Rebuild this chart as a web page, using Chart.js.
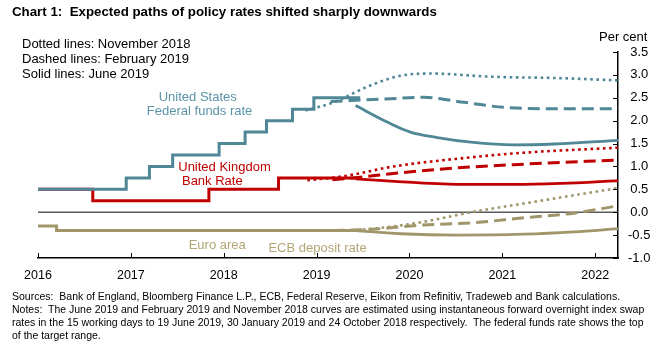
<!DOCTYPE html>
<html>
<head>
<meta charset="utf-8">
<script src="https://cdn.jsdelivr.net/npm/chart.js@4.4.1/dist/chart.umd.min.js"></script>
<style>
  body { margin: 0; background: #fff; font-family: "Liberation Sans", Arial, sans-serif; }
  #wrap { position: relative; width: 669px; height: 352px; overflow: hidden; }
  #chart { position: absolute; left: 0; top: 0; }
  .txt { position: absolute; white-space: nowrap; color: #000; }
  .title { font-size: 13.3px; font-weight: bold; line-height: 15px; }
  .key { font-size: 13px; line-height: 15px; }
  .notes { font-size: 11px; line-height: 13px; transform: scaleX(0.955); transform-origin: left top; }
</style>
</head>
<body>
<div id="wrap">
  <canvas id="chart" width="669" height="352"></canvas>
  <div class="txt title" style="left:12px; top:4px;">Chart 1:&nbsp; Expected paths of policy rates shifted sharply downwards</div>
  <div class="txt key" style="left:22px; top:36px;">Dotted lines: November 2018<br>Dashed lines: February 2019<br>Solid lines: June 2019</div>
  <div class="txt key" style="left:599px; top:29px;">Per cent</div>
  <div class="txt notes" style="left:12px; top:290px;">Sources:&nbsp; Bank of England, Bloomberg Finance L.P., ECB, Federal Reserve, Eikon from Refinitiv, Tradeweb and Bank calculations.<br>Notes:&nbsp; The June 2019 and February 2019 and November 2018 curves are estimated using instantaneous forward overnight index swap<br>rates in the 15 working days to 19 June 2019, 30 January 2019 and 24 October 2018 respectively.&nbsp; The federal funds rate shows the top<br>of the target range.</div>
</div>
<script>
// history (step lines)
const usHistYears = [2016, 2016.95, 2017.20, 2017.45, 2017.95, 2018.23, 2018.46, 2018.74, 2018.97, 2019.47];
const usHistRates = [0.5, 0.75, 1.0, 1.25, 1.5, 1.75, 2.0, 2.25, 2.5, 2.5];
const ukHistYears = [2016, 2016.59, 2017.84, 2018.59, 2019.47];
const ukHistRates = [0.5, 0.25, 0.5, 0.75, 0.75];
const euHistYears = [2016, 2016.2, 2019.47];
const euHistRates = [-0.3, -0.4, -0.4];

// forward curves - US
const usNovYears = [2018.88, 2019.18, 2019.58, 2019.9, 2020.23, 2020.88, 2021.6, 2022.245];
const usNovRates = [2.22, 2.40, 2.77, 2.98, 3.03, 2.96, 2.93, 2.88];
const usFebYears = [2019.15, 2019.37, 2019.8, 2020.15, 2020.59, 2021.02, 2021.6, 2022.245];
const usFebRates = [2.42, 2.44, 2.48, 2.51, 2.40, 2.29, 2.26, 2.26];
const usJunYears = [2019.42, 2019.76, 2020.01, 2020.3, 2020.66, 2021.12, 2021.56, 2022.245];
const usJunRates = [2.33, 1.97, 1.75, 1.63, 1.53, 1.47, 1.49, 1.57];

// forward curves - UK
const ukNovYears = [2018.9, 2019.2, 2019.44, 2019.8, 2020.52, 2021.23, 2022.245];
const ukNovRates = [0.70, 0.76, 0.84, 0.99, 1.17, 1.30, 1.41];
const ukFebYears = [2019.17, 2019.45, 2019.8, 2020.52, 2021.23, 2022.245];
const ukFebRates = [0.71, 0.76, 0.84, 0.97, 1.05, 1.14];
const ukJunYears = [2019.42, 2019.8, 2020.52, 2021.23, 2021.8, 2022.245];
const ukJunRates = [0.73, 0.68, 0.61, 0.61, 0.64, 0.69];

// forward curves - euro area
const euNovYears = [2018.9, 2019.3, 2019.61, 2020.15, 2020.69, 2021.23, 2021.77, 2022.245];
const euNovRates = [-0.40, -0.40, -0.36, -0.21, 0.01, 0.19, 0.37, 0.53];
const euFebYears = [2019.17, 2019.6, 2020.15, 2020.69, 2021.23, 2021.77, 2022.245];
const euFebRates = [-0.40, -0.37, -0.28, -0.23, -0.12, -0.02, 0.14];
const euJunYears = [2019.42, 2019.9, 2020.52, 2021.23, 2021.77, 2022.245];
const euJunRates = [-0.40, -0.47, -0.50, -0.48, -0.43, -0.36];

const US = '#4F8797', UK = '#C00000', EU = '#A0966A';

const pts = (xs, ys) => xs.map((x, i) => ({ x: x, y: ys[i] }));

const hist = (data, color) => ({
    data: data, borderColor: color, borderWidth: 3, stepped: true,
    pointRadius: 0, fill: false
});
const fwd = (data, color, style) => ({
    data: data, borderColor: color, fill: false, pointRadius: 0,
    cubicInterpolationMode: 'monotone',
    borderWidth: style === 'solid' ? 2.8 : (style === 'dashed' ? 3 : 2.6),
    borderDash: style === 'solid' ? [] : (style === 'dashed' ? [12, 6] : [2.6, 3.6])
});

// in-chart series labels, anchored in data units
const seriesLabels = [
    { text: 'United States', x: 2017.72, y: 2.51, color: '#5B93A8', align: 'center' },
    { text: 'Federal funds rate', x: 2017.74, y: 2.195, color: '#5B93A8', align: 'center' },
    { text: 'United Kingdom', x: 2017.51, y: 0.98, color: '#C00000', align: 'left' },
    { text: 'Bank Rate', x: 2017.55, y: 0.666, color: '#C00000', align: 'left' },
    { text: 'Euro area', x: 2017.93, y: -0.717, color: '#B3A676', align: 'center' },
    { text: 'ECB deposit rate', x: 2019.01, y: -0.789, color: '#B3A676', align: 'center' }
];

const framePlugin = {
    id: 'frame',
    beforeDatasetsDraw(chart) {
        const { ctx, chartArea: a, scales: { y } } = chart;
        const y0 = y.getPixelForValue(0);
        ctx.save();
        ctx.strokeStyle = '#5a5a5a';
        ctx.lineWidth = 1.5;
        ctx.beginPath();
        ctx.moveTo(a.left, y0);
        ctx.lineTo(a.right, y0);
        ctx.stroke();
        ctx.restore();
    },
    afterDatasetsDraw(chart) {
        const { ctx, chartArea: a, scales: { x, y } } = chart;
        ctx.save();
        ctx.strokeStyle = '#000';
        ctx.lineWidth = 1;
        ctx.beginPath();
        x.ticks.forEach(t => {
            const px = Math.round(x.getPixelForValue(t.value)) + 0.5;
            ctx.moveTo(px, a.bottom);
            ctx.lineTo(px, a.bottom - 5);
        });
        y.ticks.forEach(t => {
            const py = Math.round(y.getPixelForValue(t.value)) + 0.5;
            ctx.moveTo(a.right, py);
            ctx.lineTo(a.right - 5, py);
        });
        ctx.stroke();

        ctx.font = '13px "Liberation Sans", Arial, sans-serif';
        ctx.textBaseline = 'middle';
        seriesLabels.forEach(l => {
            ctx.fillStyle = l.color;
            ctx.textAlign = l.align;
            ctx.fillText(l.text, x.getPixelForValue(l.x), y.getPixelForValue(l.y));
        });
        ctx.restore();
    }
};

new Chart(document.getElementById('chart').getContext('2d'), {
    type: 'line',
    data: {
        datasets: [
            fwd(pts(usNovYears, usNovRates), US, 'dotted'),
            fwd(pts(usFebYears, usFebRates), US, 'dashed'),
            fwd(pts(usJunYears, usJunRates), US, 'solid'),
            fwd(pts(ukNovYears, ukNovRates), UK, 'dotted'),
            fwd(pts(ukFebYears, ukFebRates), UK, 'dashed'),
            fwd(pts(ukJunYears, ukJunRates), UK, 'solid'),
            fwd(pts(euNovYears, euNovRates), EU, 'dotted'),
            fwd(pts(euFebYears, euFebRates), EU, 'dashed'),
            fwd(pts(euJunYears, euJunRates), EU, 'solid'),
            hist(pts(usHistYears, usHistRates), US),
            hist(pts(ukHistYears, ukHistRates), UK),
            hist(pts(euHistYears, euHistRates), EU)
        ]
    },
    options: {
        responsive: false,
        animation: false,
        layout: { padding: { left: 38, right: 11, top: 52, bottom: 70 } },
        plugins: { legend: { display: false }, tooltip: { enabled: false } },
        scales: {
            x: {
                type: 'linear',
                min: 2016,
                max: 2022.245,
                grid: { display: false, drawTicks: false },
                border: { display: true, color: '#000', width: 1.5 },
                ticks: {
                    stepSize: 1,
                    includeBounds: false,
                    maxRotation: 0,
                    padding: 10,
                    color: '#000',
                    font: { family: '"Liberation Sans", Arial, sans-serif', size: 12.5 },
                    callback: v => String(v)
                },
                afterFit: s => { s.height = 24; }
            },
            y: {
                position: 'right',
                min: -1,
                max: 3.5,
                grid: { display: false, drawTicks: false },
                border: { display: true, color: '#000', width: 1.5 },
                ticks: {
                    stepSize: 0.5,
                    padding: 10,
                    crossAlign: 'center',
                    color: '#000',
                    font: { family: '"Liberation Sans", Arial, sans-serif', size: 13 },
                    callback: v => v.toFixed(1)
                },
                afterFit: s => { s.width = 40; }
            }
        }
    },
    plugins: [framePlugin]
});
</script>
</body>
</html>
